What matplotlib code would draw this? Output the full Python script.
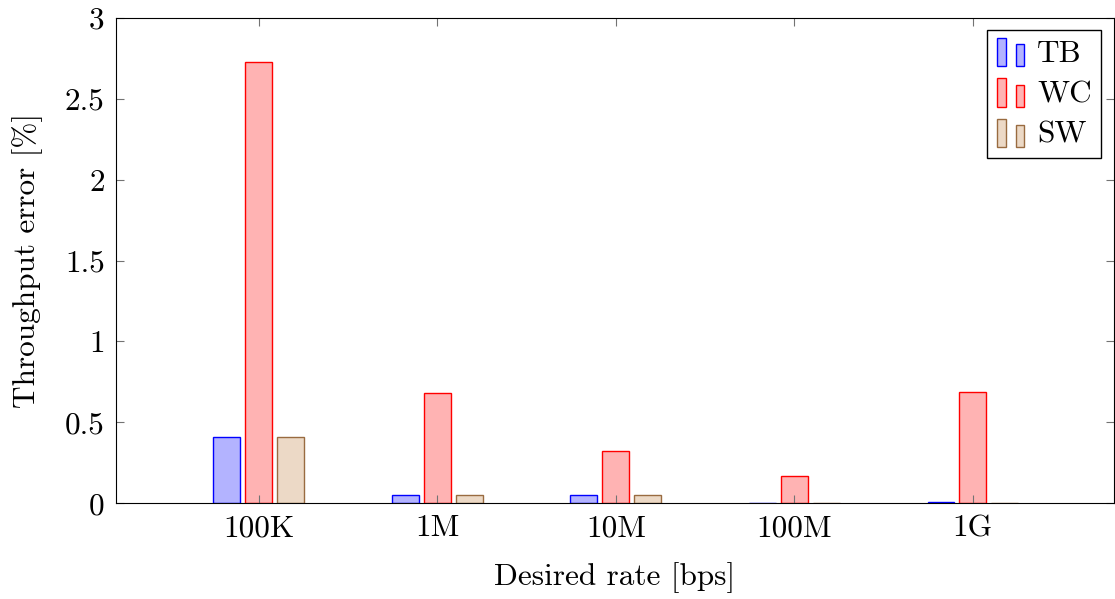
import numpy as np
import matplotlib
matplotlib.use("Agg")
import matplotlib.pyplot as plt
from matplotlib.patches import Rectangle
from matplotlib.legend_handler import HandlerBase

plt.rcParams['font.family'] = 'serif'
plt.rcParams['font.serif'] = ['cmr10']
plt.rcParams['mathtext.fontset'] = 'cm'
plt.rcParams['font.size'] = 22.5

# datos
rates = ['100K', '1M', '10M', '100M', '1G']
tb = [0.41, 0.05, 0.05, 0.002, 0.01]
wc = [2.73, 0.68, 0.32, 0.17, 0.69]
sw = [0.41, 0.05, 0.05, 0.001, 0.001]
series = ['TB', 'WC', 'SW']
yticks = [0, 0.5, 1, 1.5, 2, 2.5, 3]

fills = [(0.7, 0.7, 1.0), (1.0, 0.7, 0.7), (0.925, 0.85, 0.775)]
edges = ['blue', 'red', (0.6, 0.42, 0.25)]


class DosBarras(HandlerBase):
    # leyenda estilo pgfplots ybar: dos barritas
    def create_artists(self, legend, orig, xd, yd, w, h, fontsize, trans):
        fc = orig.get_facecolor()
        ec = orig.get_edgecolor()
        bw = w * 0.28
        r1 = Rectangle((xd, yd - h * 0.2), bw, h * 1.3, fc=fc, ec=ec, lw=1, transform=trans)
        r2 = Rectangle((xd + w * 0.6, yd - h * 0.2), bw, h * 1.0, fc=fc, ec=ec, lw=1, transform=trans)
        return [r1, r2]


fig = plt.figure(figsize=(11.15, 5.99), dpi=100)
ax = fig.add_axes([0.104, 0.160, 0.895, 0.810])

x = np.arange(len(rates))
ancho = 0.15
paso = 0.179
barras = []
for i, vals in enumerate([tb, wc, sw]):
    b = ax.bar(x + (i - 1) * paso, vals, ancho, color=fills[i], edgecolor=edges[i],
               linewidth=1, label=series[i])
    barras.append(b[0])

ax.set_xlim(-0.8, 4.79)
ax.set_ylim(0, 3)
ax.set_xticks(x)
ax.set_xticklabels(rates)
ax.set_yticks(yticks)
ax.set_yticklabels(['0', '0.5', '1', '1.5', '2', '2.5', '3'])
ax.tick_params(direction='in', top=True, right=True, length=6, width=0.8, color='0.45', pad=8)
for s in ax.spines.values():
    s.set_linewidth(0.8)

ax.set_xlabel('Desired rate [bps]', labelpad=14)
ax.set_ylabel('Throughput error [%]', labelpad=16)

ax.legend(barras, series, loc='upper right', handler_map={b: DosBarras() for b in barras},
          fancybox=False, edgecolor='black', framealpha=1, handlelength=1.0,
          handletextpad=0.3, borderaxespad=0.4, labelspacing=0.4, borderpad=0.3)

fig.savefig('out.png', dpi=100)
